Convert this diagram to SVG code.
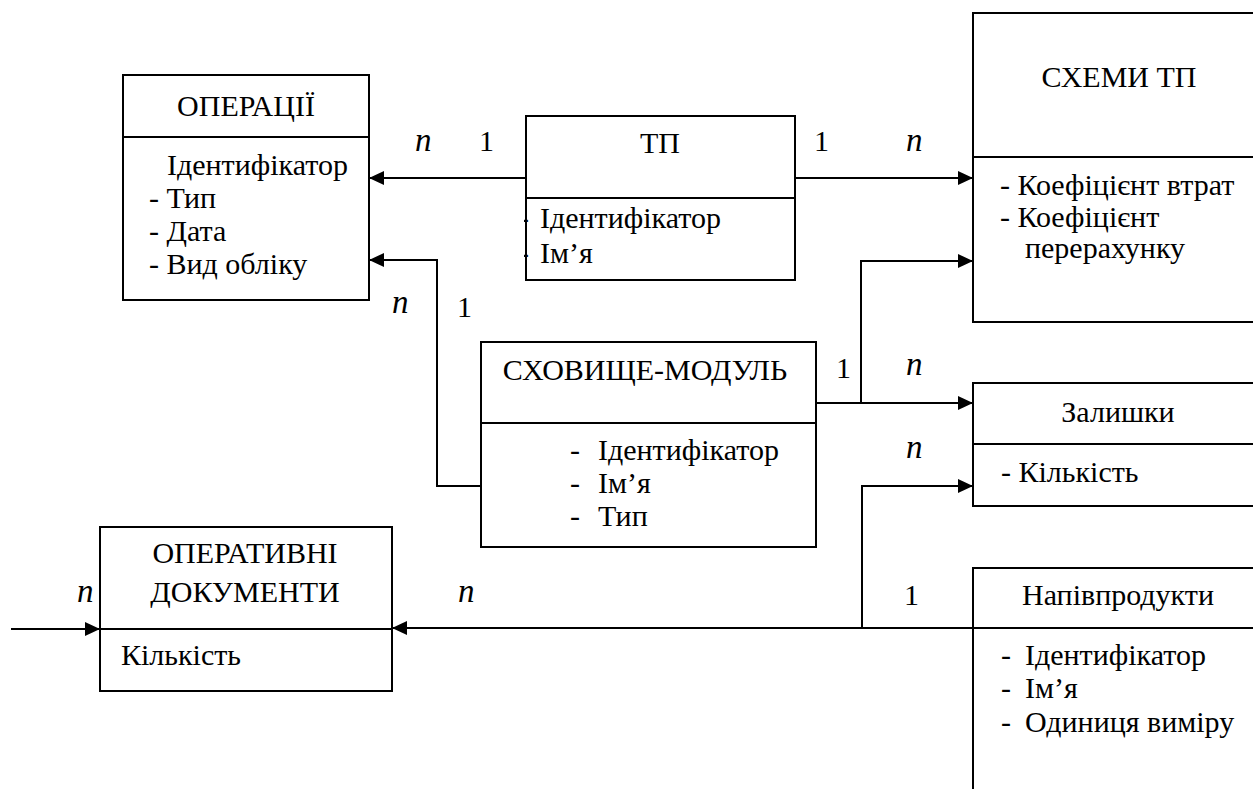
<svg xmlns="http://www.w3.org/2000/svg" width="1253" height="789" viewBox="0 0 1253 789">
<style>
.t{font-family:'Liberation Serif',serif;font-size:30px;fill:#000}
.c{text-anchor:middle}
.n{font-style:italic;font-size:33px}
.box{fill:#fff;stroke:#000;stroke-width:2}
.div{stroke:#000;stroke-width:2}
.conn path{fill:none;stroke:#000;stroke-width:2;marker-end:url(#ah)}
</style>
<defs>
<marker id="ah" markerUnits="userSpaceOnUse" markerWidth="15" markerHeight="14" refX="15" refY="7" orient="auto">
<path d="M0,0 L15,7 L0,14 z" fill="#000"/>
</marker>
<clipPath id="tpclip"><rect x="524" y="190" width="20" height="90"/></clipPath>
</defs>
<rect width="1253" height="789" fill="#fff"/>

<g class="conn" id="connectors">
<path d="M526,178 H369"/>
<path d="M795,178 H973"/>
<path d="M481,486 H437 V260 H369"/>
<path d="M816,403 H973"/>
<path d="M861,403 V261 H973"/>
<path d="M973,628 H392"/>
<path d="M862,628 V486 H973"/>
<path d="M11,629 H100"/>
</g>

<g id="operatsii" font-family="Liberation Serif">
<rect class="box" x="123" y="75" width="246" height="225"/>
<line class="div" x1="123" y1="137" x2="369" y2="137"/>
<text class="t c" style="font-family:'Liberation Serif',serif" x="246" y="116">ОПЕРАЦІЇ</text>
<text class="t" style="font-family:'Liberation Serif',serif" x="167" y="175">Ідентифікатор</text>
<text class="t" style="font-family:'Liberation Serif',serif" x="149" y="208">- Тип</text>
<text class="t" style="font-family:'Liberation Serif',serif" x="149" y="241">- Дата</text>
<text class="t" style="font-family:'Liberation Serif',serif" x="149" y="274">- Вид обліку</text>
</g>

<g id="tp" font-family="Liberation Serif">
<rect class="box" x="526" y="116" width="269" height="164"/>
<line class="div" x1="526" y1="198" x2="795" y2="198"/>
<text class="t c" style="font-family:'Liberation Serif',serif" x="660" y="153">ТП</text>
<text class="t" style="font-family:'Liberation Serif',serif" x="519" y="228" clip-path="url(#tpclip)">-</text>
<text class="t" style="font-family:'Liberation Serif',serif" x="519" y="263" clip-path="url(#tpclip)">-</text>
<text class="t" style="font-family:'Liberation Serif',serif" x="540" y="228">Ідентифікатор</text>
<text class="t" style="font-family:'Liberation Serif',serif" x="540" y="263">Ім’я</text>
</g>

<g id="skhemy-tp" font-family="Liberation Serif">
<rect class="box" x="973" y="13" width="300" height="309"/>
<line class="div" x1="973" y1="157" x2="1253" y2="157"/>
<text class="t c" style="font-family:'Liberation Serif',serif" x="1119" y="87">СХЕМИ ТП</text>
<text class="t" style="font-family:'Liberation Serif',serif" x="1000" y="195">- Коефіцієнт втрат</text>
<text class="t" style="font-family:'Liberation Serif',serif" x="1000" y="227">- Коефіцієнт</text>
<text class="t" style="font-family:'Liberation Serif',serif" x="1025" y="258">перерахунку</text>
</g>

<g id="skhovyshche-modul" font-family="Liberation Serif">
<rect class="box" x="481" y="342" width="335" height="205"/>
<line class="div" x1="481" y1="423" x2="816" y2="423"/>
<text class="t c" style="font-family:'Liberation Serif',serif" x="645" y="380">СХОВИЩЕ-МОДУЛЬ</text>
<text class="t" style="font-family:'Liberation Serif',serif" x="570" y="460">-</text>
<text class="t" style="font-family:'Liberation Serif',serif" x="598" y="460">Ідентифікатор</text>
<text class="t" style="font-family:'Liberation Serif',serif" x="570" y="493">-</text>
<text class="t" style="font-family:'Liberation Serif',serif" x="598" y="493">Ім’я</text>
<text class="t" style="font-family:'Liberation Serif',serif" x="570" y="526">-</text>
<text class="t" style="font-family:'Liberation Serif',serif" x="598" y="526">Тип</text>
</g>

<g id="zalyshky" font-family="Liberation Serif">
<rect class="box" x="973" y="383" width="300" height="123"/>
<line class="div" x1="973" y1="444" x2="1253" y2="444"/>
<text class="t c" style="font-family:'Liberation Serif',serif" x="1118" y="422">Залишки</text>
<text class="t" style="font-family:'Liberation Serif',serif" x="1001" y="482">- Кількість</text>
</g>

<g id="napivprodukty" font-family="Liberation Serif">
<rect class="box" x="973" y="568" width="300" height="250"/>
<line class="div" x1="973" y1="628" x2="1253" y2="628"/>
<text class="t c" style="font-family:'Liberation Serif',serif" x="1118" y="605">Напівпродукти</text>
<text class="t" style="font-family:'Liberation Serif',serif" x="1001" y="665">-</text>
<text class="t" style="font-family:'Liberation Serif',serif" x="1025" y="665">Ідентифікатор</text>
<text class="t" style="font-family:'Liberation Serif',serif" x="1001" y="698">-</text>
<text class="t" style="font-family:'Liberation Serif',serif" x="1025" y="698">Ім’я</text>
<text class="t" style="font-family:'Liberation Serif',serif" x="1001" y="732">-</text>
<text class="t" style="font-family:'Liberation Serif',serif" x="1025" y="732">Одиниця виміру</text>
</g>

<g id="operatyvni-dokumenty" font-family="Liberation Serif">
<rect class="box" x="100" y="527" width="292" height="164"/>
<line class="div" x1="100" y1="629" x2="392" y2="629"/>
<text class="t c" style="font-family:'Liberation Serif',serif" x="245" y="563">ОПЕРАТИВНІ</text>
<text class="t c" style="font-family:'Liberation Serif',serif" x="245" y="602">ДОКУМЕНТИ</text>
<text class="t" style="font-family:'Liberation Serif',serif" x="121" y="665">Кількість</text>
</g>

<g id="labels" font-family="Liberation Serif">
<text class="t n" style="font-family:'Liberation Serif',serif" x="415" y="151">n</text>
<text class="t" style="font-family:'Liberation Serif',serif" x="479" y="151">1</text>
<text class="t" style="font-family:'Liberation Serif',serif" x="814" y="151">1</text>
<text class="t n" style="font-family:'Liberation Serif',serif" x="906" y="151">n</text>
<text class="t n" style="font-family:'Liberation Serif',serif" x="392" y="313">n</text>
<text class="t" style="font-family:'Liberation Serif',serif" x="457" y="317">1</text>
<text class="t" style="font-family:'Liberation Serif',serif" x="836" y="378">1</text>
<text class="t n" style="font-family:'Liberation Serif',serif" x="906" y="375">n</text>
<text class="t n" style="font-family:'Liberation Serif',serif" x="906" y="458">n</text>
<text class="t" style="font-family:'Liberation Serif',serif" x="904" y="605">1</text>
<text class="t n" style="font-family:'Liberation Serif',serif" x="77" y="602">n</text>
<text class="t n" style="font-family:'Liberation Serif',serif" x="458" y="602">n</text>
</g>
</svg>
